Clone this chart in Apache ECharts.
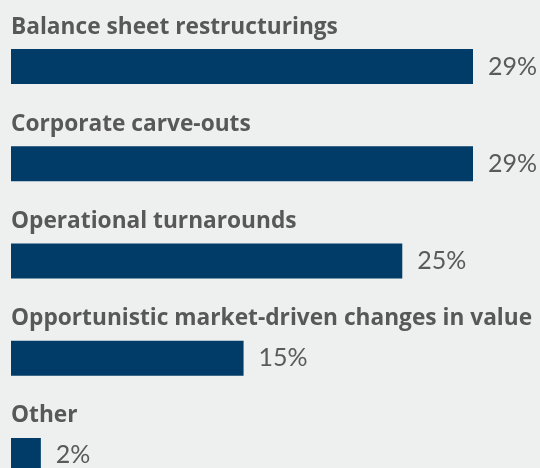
<!DOCTYPE html>
<html>
<head>
<meta charset="utf-8">
<script src="https://cdn.jsdelivr.net/npm/echarts@6/dist/echarts.min.js"></script>
<style>
  html, body { margin: 0; padding: 0; background: #eef0ef; }
  #chart { width: 540px; height: 468px; }
</style>
</head>
<body>
<div id="chart"></div>
<script>
  // categories, top to bottom
  var categories = [
    'Balance sheet restructurings',
    'Corporate carve-outs',
    'Operational turnarounds',
    'Opportunistic market-driven changes in value',
    'Other'
  ];
  // share of respondents, %
  var shares = [29.4, 29.4, 24.9, 14.8, 1.9];

  var chart = echarts.init(document.getElementById('chart'));
  chart.setOption({
    backgroundColor: '#eef0ef',
    animation: false,
    grid: { left: 11, width: 462, top: 18, height: 486, outerBoundsMode: 'none' },
    xAxis: {
      type: 'value',
      min: 0,
      max: 29.4,
      show: false
    },
    yAxis: {
      type: 'category',
      inverse: true,
      data: categories,
      axisLine: { show: false },
      axisTick: { show: false },
      axisLabel: {
        inside: true,
        margin: 0,
        align: 'left',
        verticalAlign: 'bottom',
        padding: [0, 0, 28, 0],
        color: '#585858',
        fontFamily: 'Open Sans',
        fontWeight: 'bold',
        fontSize: 22.7
      },
      z: 5
    },
    series: [{
      type: 'bar',
      data: shares,
      barWidth: 35,
      itemStyle: { color: '#003c67' },
      label: {
        show: true,
        position: 'right',
        distance: 15,
        color: '#5a5a5a',
        fontFamily: 'Lato',
        fontSize: 25,
        formatter: function (p) { return Math.round(p.value) + '%'; }
      }
    }]
  });
</script>
</body>
</html>
